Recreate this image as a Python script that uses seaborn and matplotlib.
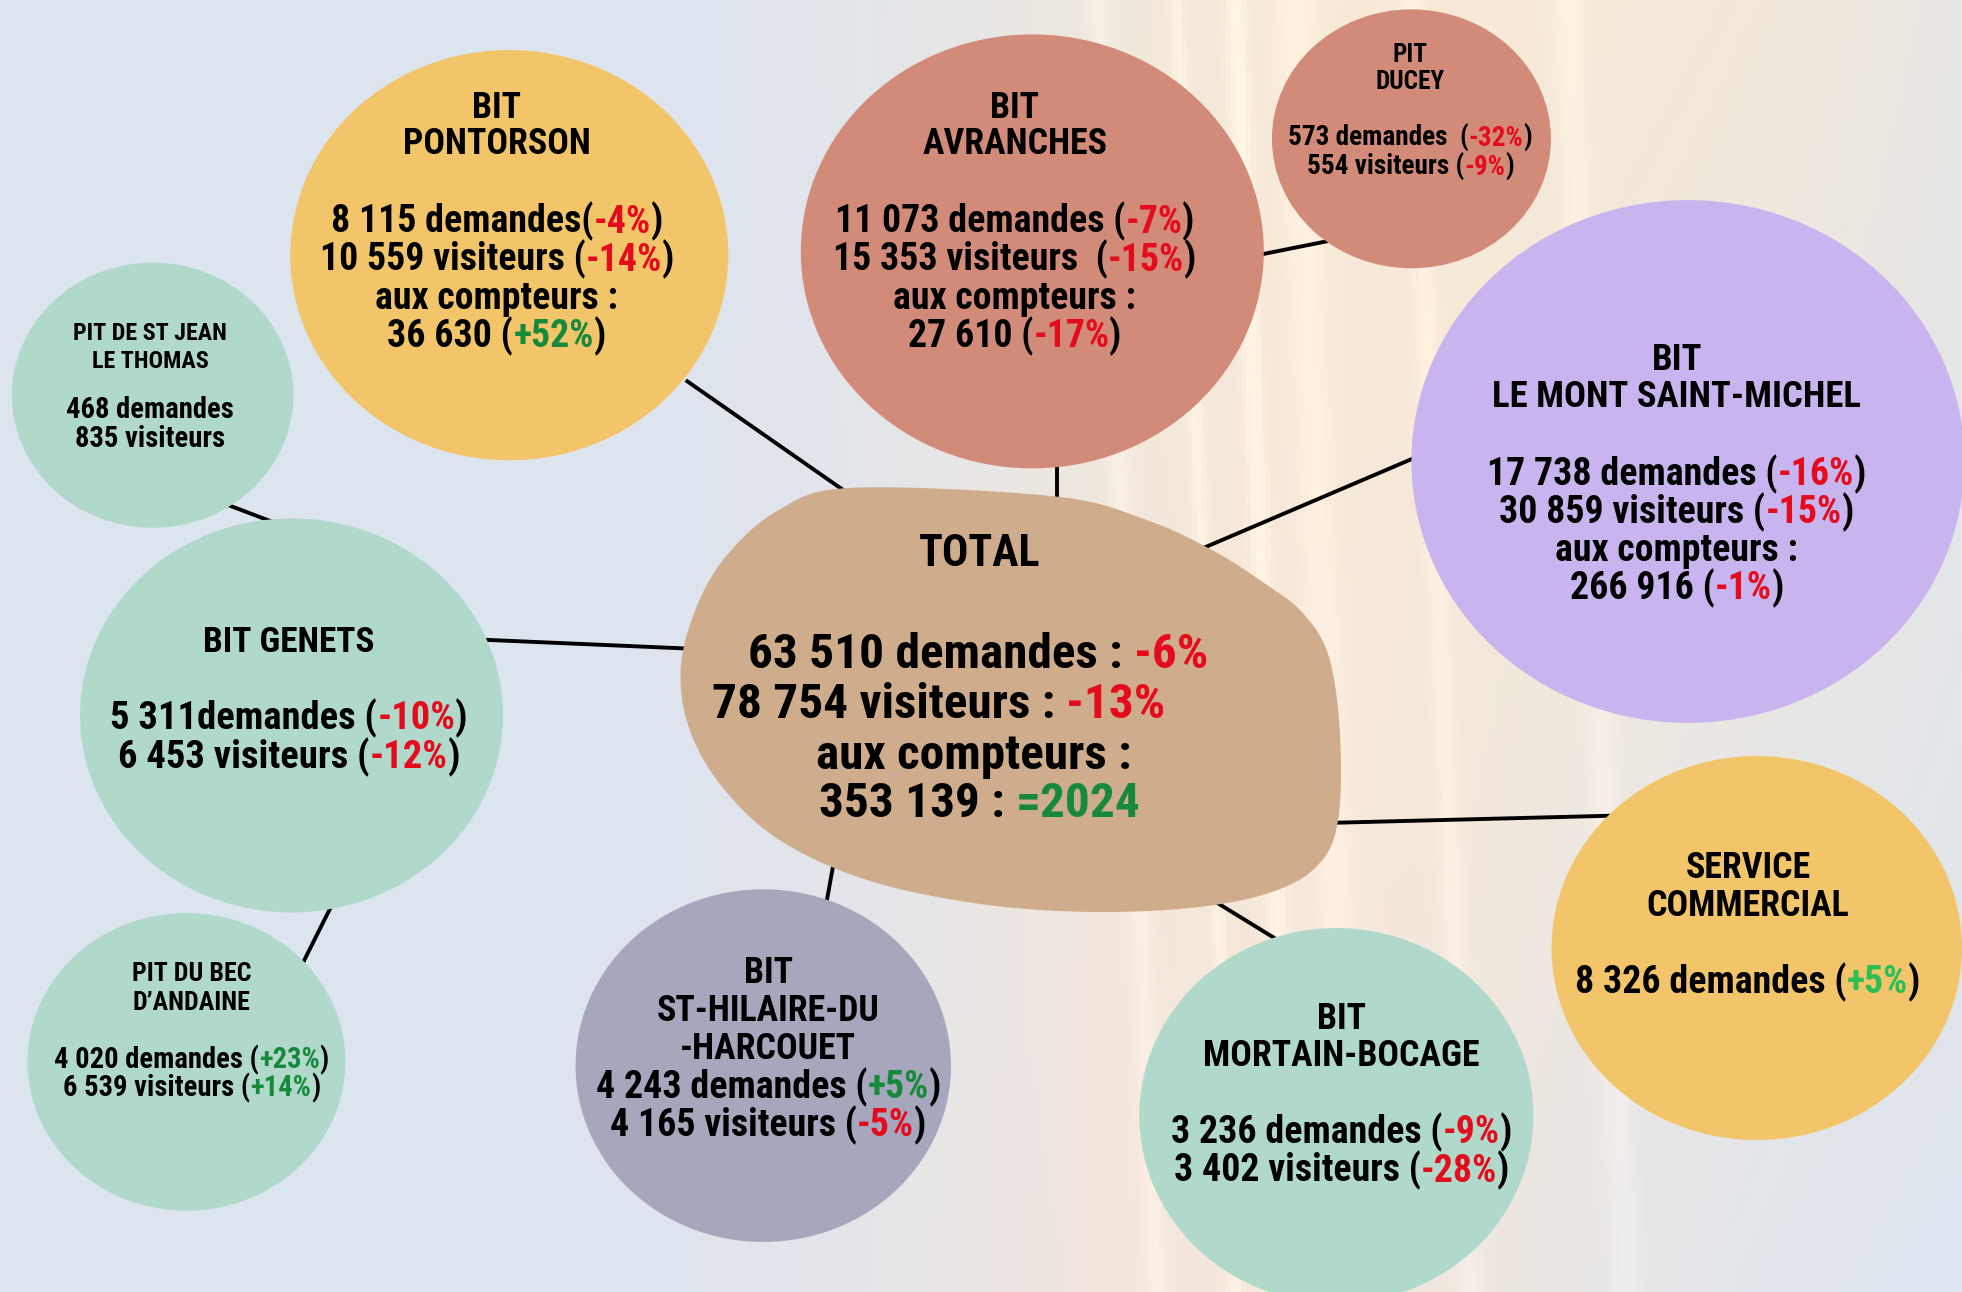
import numpy as np
import pandas as pd
import seaborn as sns
import matplotlib.pyplot as plt
from matplotlib import font_manager
from matplotlib.font_manager import FontProperties
from matplotlib.patches import Ellipse, Polygon

# Bureaux (BIT) et points (PIT) d'information touristique
titles = ["BIT\nPONTORSON", "BIT\nAVRANCHES", "PIT\nDUCEY", "BIT\nLE MONT SAINT-MICHEL",
          "PIT DE ST JEAN\nLE THOMAS", "BIT GENETS", "PIT DU BEC\nD\u2019ANDAINE",
          "BIT\nST-HILAIRE-DU\n-HARCOUET", "BIT\nMORTAIN-BOCAGE", "SERVICE\nCOMMERCIAL"]
demandes = [8115, 11073, 573, 17738, 468, 5311, 4020, 4243, 3236, 8326]
evol_demandes = [-4, -7, -32, -16, None, -10, 23, 5, -9, 5]
visiteurs = [10559, 15353, 554, 30859, 835, 6453, 6539, 4165, 3402, None]
evol_visiteurs = [-14, -15, -9, -15, None, -12, 14, -5, -28, None]
compteurs = [36630, 27610, None, 266916, None, None, None, None, None, None]
evol_compteurs = [52, -17, None, -1, None, None, None, None, None, None]

# Total
total_demandes = 63510
total_evol_demandes = -6
total_visiteurs = 78754
total_evol_visiteurs = -13
total_compteurs = 353139
total_evol_compteurs = "=2024"

df = pd.DataFrame({'title': titles, 'demandes': demandes, 'evol_dem': evol_demandes,
                   'visiteurs': visiteurs, 'evol_vis': evol_visiteurs,
                   'compteurs': compteurs, 'evol_cpt': evol_compteurs})

# colours
YELLOW = '#F2C56A'
SALMON = '#D38B79'
LAVENDER = '#C8B4EE'
MINT = '#B0D9CC'
GREYPURPLE = '#A6A6BC'
TAN = '#CFAC8B'
RED = '#E30B1C'
GREEN = '#16893A'
LIGHTGREEN = '#2DBE55'

bubble_colors = [YELLOW, SALMON, SALMON, LAVENDER, MINT, MINT, MINT, GREYPURPLE, MINT, YELLOW]
green_for = [GREEN] * 9 + [LIGHTGREEN]

# layout (canvas units = 1568 x 1033)
centers = [(407, 204), (825, 201), (1128, 111), (1349, 369), (122, 316),
           (233, 572), (149, 849), (610, 852), (1068, 892), (1404, 758)]
sizes = [(350, 328), (370, 347), (223, 207), (442, 418), (225, 212),
         (338, 315), (254, 238), (300, 282), (315, 300), (328, 307)]
text_x = [397, 811, 1127, 1340, 120, 231, 153, 614, 1072, 1397]
title_y = [84, 84, 42, 285, 265, 511, 777, 776, 812, 692]
title_dy = [29, 29, 22, 30, 22, 30, 23, 30, 30, 30]
body_y = [175, 175, 109, 377, 326, 572, 846, 867, 903, 783]
body_dy = [30.5, 30.5, 23, 30.3, 23, 31, 22, 30.5, 31, 30.5]
title_fs = [27, 27, 19, 27.5, 18, 26.5, 19.5, 27, 27, 27]
body_fs = [28.5, 28.5, 20.5, 28.5, 21.5, 29, 21.5, 28.5, 28.5, 28.5]
gap_num = [" "] * 10
gap_num[5] = ""
gap_dem = ["", " ", "  ", " ", " ", " ", " ", " ", " ", " "]
gap_vis = [" ", "  ", " ", " ", " ", " ", " ", " ", " ", " "]

connectors = [((548, 304), (700, 410)), ((845, 360), (845, 410)), ((1000, 205), (1075, 190)),
              ((955, 441), (1140, 362)), ((175, 401), (225, 420)), ((375, 511), (560, 519)),
              ((267, 720), (238, 778)), ((668, 680), (659, 730)), ((960, 714), (1025, 754)),
              ((1060, 658), (1295, 652))]

blob = np.array([(681, 390), (844, 397), (917, 416), (969, 440), (1010, 466), (1041, 490),
                 (1062, 525), (1071, 589), (1069, 658), (1052, 693), (1014, 714), (951, 726),
                 (865, 729), (778, 722), (691, 703), (622, 671), (577, 629), (551, 583),
                 (544, 535), (556, 487), (580, 445), (622, 408)], dtype=float)

W, H = 1568, 1033
FIG_W, FIG_H = 1962, 1292

sns.set_theme(style="white")
plt.rcParams['font.family'] = ['Liberation Sans', 'DejaVu Sans']


# pick the narrowest bold sans available (reference uses a condensed bold face)
def weight_of(f):
    w = f.weight
    return w if isinstance(w, int) else font_manager.weight_dict.get(w, 400)


def stretch_of(f):
    s = f.stretch
    return s if isinstance(s, int) else font_manager.stretch_dict.get(s, 500)


prefs = ['Liberation Sans Narrow', 'Arial Narrow', 'Roboto Condensed', 'Noto Sans',
         'Noto Sans Condensed', 'Open Sans', 'Open Sans Condensed', 'DejaVu Sans Condensed',
         'DejaVu Sans']
best = None
for f in font_manager.fontManager.ttflist:
    narrow = ('Narrow' in f.name or 'Condensed' in f.name or stretch_of(f) < 500)
    if not narrow or f.style != 'normal' or not (600 <= weight_of(f) <= 800):
        continue
    rank = (prefs.index(f.name) if f.name in prefs else 50, abs(stretch_of(f) - 300),
            abs(weight_of(f) - 700))
    if best is None or rank < best[0]:
        best = (rank, f.fname)
if best is not None:
    FONT = FontProperties(fname=best[1])
else:
    FONT = FontProperties(family=['Roboto', 'Liberation Sans', 'DejaVu Sans'], weight='bold')

fig = plt.figure(figsize=(FIG_W / 100, FIG_H / 100), dpi=100)
ax = fig.add_axes([0, 0, 1, 1])
ax.set_xlim(0, W)
ax.set_ylim(H, 0)
ax.axis('off')

renderer = fig.canvas.get_renderer()
ppu = FIG_W / W


def raw_width(s, fp, fs):
    t = ax.text(0, 0, s, fontproperties=fp, fontsize=fs)
    w = t.get_window_extent(renderer=renderer).width
    t.remove()
    return w


# width ratio against an Arial-Narrow-like face (Arial bold metrics x 0.82)
sample = "8 115 demandes visiteurs MONT SAINT-MICHEL"
ref_fp = FontProperties(family=['Liberation Sans', 'DejaVu Sans'], weight='bold')
ratio = raw_width(sample, FONT, 50) / (0.82 * raw_width(sample, ref_fp, 50))
SCALE = 1 / ratio if ratio > 1 else 1.0

# background: cool blue-grey on the left, warm light on the right
X, Y = np.meshgrid(np.linspace(0, 1, 400), np.linspace(0, 1, 300))
cool = np.array([220, 228, 239]) / 255
warm = np.array([248, 234, 214]) / 255
pink = np.array([240, 228, 226]) / 255
w = 0.95 * np.exp(-((X - 0.68) / 0.2) ** 2) * (1 - 0.45 * Y)
w += 0.5 * np.exp(-((X - 0.92) / 0.15) ** 2) * (1 - Y)
p = 0.6 * np.exp(-((X - 0.6) / 0.18) ** 2) * Y
w = np.clip(w, 0, 1)
p = np.clip(p, 0, 1 - w)
bg = cool * (1 - w - p)[..., None] + warm * w[..., None] + pink * p[..., None]
for sx, amp, wid in [(0.56, 0.03, 0.006), (0.6, 0.04, 0.004), (0.63, 0.05, 0.005),
                     (0.66, 0.03, 0.01), (0.72, 0.03, 0.006), (0.8, 0.03, 0.008)]:
    bg += amp * np.exp(-((X - sx - 0.03 * Y) / wid) ** 2)[..., None]
ax.imshow(np.clip(bg, 0, 1), extent=(0, W, H, 0), aspect='auto', zorder=0)

# connectors under the bubbles
for (x0, y0), (x1, y1) in connectors:
    ax.plot([x0, x1], [y0, y1], color='black', lw=2.8, zorder=1, solid_capstyle='butt')

# bubbles
for i in range(len(df)):
    ax.add_patch(Ellipse(centers[i], sizes[i][0], sizes[i][1], facecolor=bubble_colors[i],
                         edgecolor='none', zorder=2))


def smooth_closed(pts, k=24):
    n = len(pts)
    t = np.linspace(0, 1, k, endpoint=False)[:, None]
    out = []
    for i in range(n):
        p0, p1, p2, p3 = pts[i - 1], pts[i], pts[(i + 1) % n], pts[(i + 2) % n]
        out.append(0.5 * (2 * p1 + (-p0 + p2) * t + (2 * p0 - 5 * p1 + 4 * p2 - p3) * t ** 2
                          + (-p0 + 3 * p1 - 3 * p2 + p3) * t ** 3))
    return np.vstack(out)


ax.add_patch(Polygon(smooth_closed(blob), closed=True, facecolor=TAN, edgecolor='none', zorder=2))


def text_width(s, fs):
    return (raw_width(s + "|", FONT, fs) - raw_width("|", FONT, fs)) / ppu


def rich_line(x, y, parts, fs):
    fs = fs * SCALE
    full = "".join(s for s, _ in parts)
    total = text_width(full, fs)
    base = y + 0.72 * fs * 100 / 72 / ppu / 2
    x0 = x - total / 2
    prefix = ""
    for s, c in parts:
        off = text_width(prefix, fs) if prefix else 0
        ax.text(x0 + off, base, s, color=c, fontproperties=FONT, fontsize=fs,
                ha='left', va='baseline', zorder=5)
        prefix += s


def fmt(v):
    return f"{v:,}".replace(",", " ")


def evol_parts(v, i):
    return [(f"{v:+d}%", RED if v < 0 else green_for[i])]


for i, row in df.iterrows():
    x = text_x[i]
    for j, line in enumerate(row['title'].split("\n")):
        rich_line(x, title_y[i] + j * title_dy[i], [(line, 'black')], title_fs[i])
    lines = []
    if not pd.isna(row['evol_dem']):
        lines.append([(f"{fmt(row['demandes'])}{gap_num[i]}demandes{gap_dem[i]}(", 'black')]
                     + evol_parts(int(row['evol_dem']), i) + [(")", 'black')])
    else:
        lines.append([(f"{fmt(row['demandes'])} demandes", 'black')])
    if not pd.isna(row['visiteurs']):
        if not pd.isna(row['evol_vis']):
            lines.append([(f"{fmt(int(row['visiteurs']))} visiteurs{gap_vis[i]}(", 'black')]
                         + evol_parts(int(row['evol_vis']), i) + [(")", 'black')])
        else:
            lines.append([(f"{fmt(int(row['visiteurs']))} visiteurs", 'black')])
    if not pd.isna(row['compteurs']):
        lines.append([("aux compteurs :", 'black')])
        lines.append([(f"{fmt(int(row['compteurs']))} (", 'black')]
                     + evol_parts(int(row['evol_cpt']), i) + [(")", 'black')])
    for j, parts in enumerate(lines):
        rich_line(x, body_y[i] + j * body_dy[i], parts, body_fs[i])

# total blob
rich_line(783, 440, [("TOTAL", 'black')], 33)
rich_line(782, 520, [(f"{fmt(total_demandes)} demandes : ", 'black'),
                     (f"{total_evol_demandes}%", RED)], 37)
rich_line(750, 560, [(f"{fmt(total_visiteurs)} visiteurs : ", 'black'),
                     (f"{total_evol_visiteurs}%", RED)], 37)
rich_line(778, 601, [("aux compteurs :", 'black')], 37)
rich_line(783, 639, [(f"{fmt(total_compteurs)} : ", 'black'),
                     (total_evol_compteurs, GREEN)], 37)

fig.savefig('out.png', dpi=100)
